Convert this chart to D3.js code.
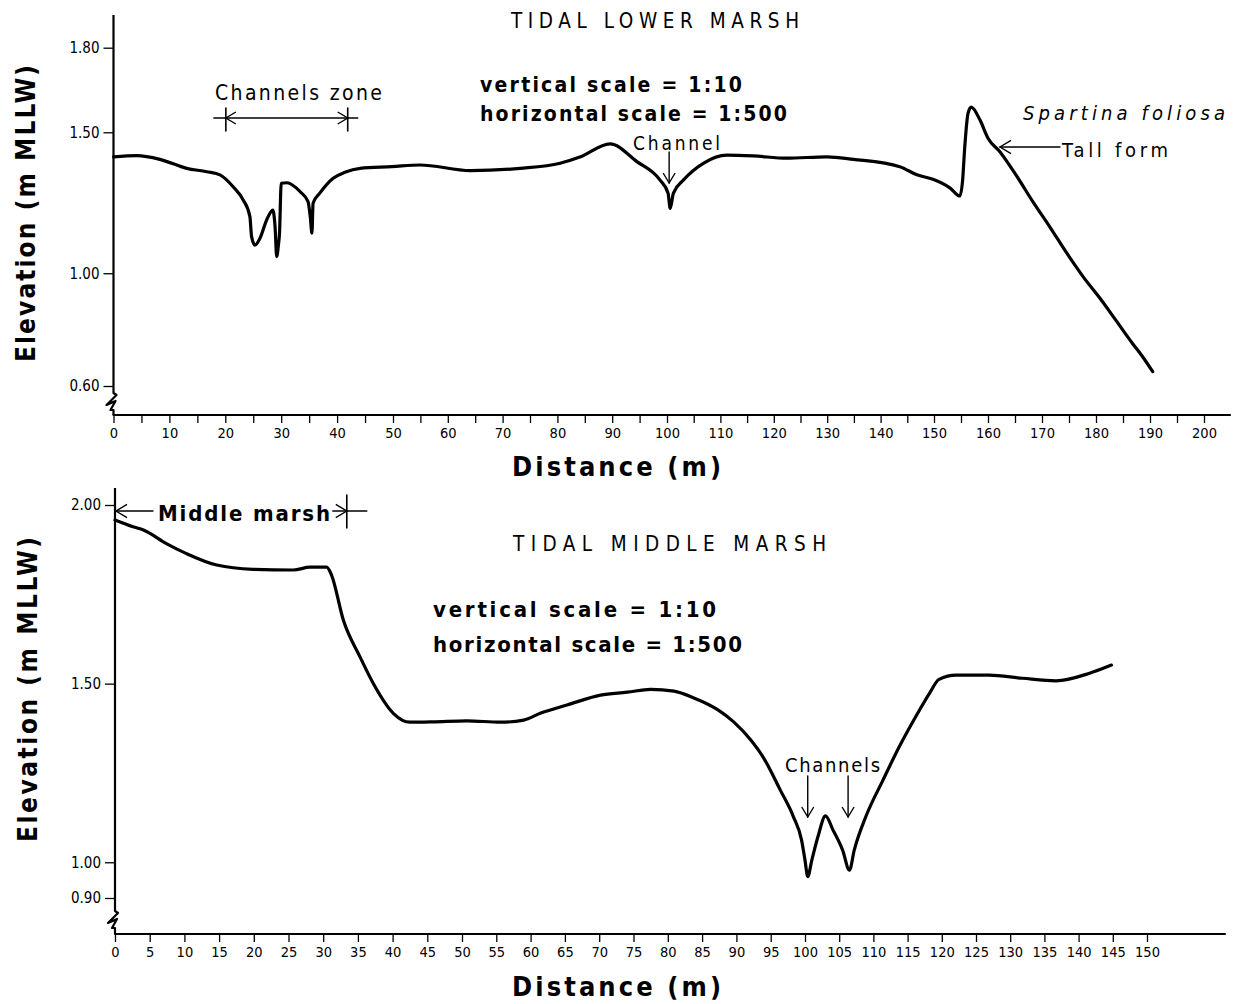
<!DOCTYPE html>
<html>
<head>
<meta charset="utf-8">
<script src="https://cdn.jsdelivr.net/npm/d3@7"></script>
<style>
  html, body { margin: 0; padding: 0; background: #fff; }
  svg { display: block; }
  text { font-family: "DejaVu Sans Condensed", "DejaVu Sans", sans-serif; fill: #000; }
</style>
</head>
<body>
<svg id="chart" width="1234" height="1004"></svg>
<script>
// ---------- DATA ----------
// Tidal lower marsh profile
const lowerDist = [0, 4.15, 8.3, 13.1, 16.7, 19.05, 21.4, 23.2, 24.4, 24.7, 25.3, 26.2, 27.4, 28.5, 28.9, 29.2, 29.5, 29.7, 30.0, 31.0, 33.4, 34.8, 35.2, 35.5, 35.7, 36.9, 39.3, 41.4, 44.1, 49.8, 54.9, 64.1, 73.2, 80.5, 84.1, 89.6, 94.5, 98.7, 100.2, 100.6, 101.2, 103.1, 106.8, 111.2, 116.2, 122.4, 129.9, 134.9, 143.6, 146.8, 149.8, 153.0, 154.8, 155.3, 155.7, 156.3, 156.9, 158.5, 160.0, 162.2, 165.3, 168.3, 171.5, 174.6, 177.6, 180.7, 183.8, 186.8, 188.7, 190.5];
const lowerElev = [1.413, 1.417, 1.404, 1.372, 1.360, 1.349, 1.307, 1.260, 1.201, 1.130, 1.100, 1.124, 1.189, 1.224, 1.165, 1.059, 1.100, 1.142, 1.319, 1.321, 1.289, 1.254, 1.200, 1.142, 1.248, 1.284, 1.337, 1.358, 1.372, 1.378, 1.384, 1.364, 1.372, 1.390, 1.412, 1.459, 1.396, 1.331, 1.284, 1.230, 1.284, 1.331, 1.390, 1.419, 1.416, 1.408, 1.413, 1.404, 1.378, 1.349, 1.333, 1.302, 1.274, 1.330, 1.449, 1.567, 1.589, 1.544, 1.479, 1.431, 1.345, 1.254, 1.163, 1.071, 0.988, 0.912, 0.830, 0.750, 0.702, 0.651];

// Tidal middle marsh profile
const middleDist = [0, 2.6, 4.1, 7.4, 10.3, 14.65, 19.9, 25.7, 28.1, 30.5, 31.2, 32.9, 35.3, 37.2, 40.1, 42.5, 45.8, 50.7, 55.6, 59.0, 61.4, 65.3, 70.2, 74.1, 77.5, 80.9, 83.8, 87.2, 89.6, 92.1, 94.0, 96.4, 98.3, 99.5, 100.0, 100.4, 101.0, 101.9, 103.0, 104.1, 105.5, 106.5, 107.2, 108.9, 111.4, 113.8, 116.2, 118.2, 119.6, 122.1, 126.9, 131.8, 136.7, 141.6, 144.8];
const middleElev = [1.958, 1.939, 1.930, 1.892, 1.864, 1.832, 1.820, 1.818, 1.826, 1.826, 1.804, 1.678, 1.575, 1.501, 1.417, 1.392, 1.393, 1.396, 1.392, 1.398, 1.417, 1.440, 1.468, 1.476, 1.484, 1.479, 1.460, 1.428, 1.393, 1.342, 1.291, 1.202, 1.128, 1.062, 1.006, 0.960, 1.006, 1.072, 1.130, 1.090, 1.034, 0.978, 1.034, 1.128, 1.230, 1.324, 1.408, 1.473, 1.512, 1.524, 1.524, 1.515, 1.508, 1.529, 1.552];

// Tick values / labels
const lowerXTicks = [0,5,10,15,20,25,30,35,40,45,50,55,60,65,70,75,80,85,90,95,100,105,110,115,120,125,130,135,140,145,150,155,160,165,170,175,180,185,190,195,200];
const lowerXLabels = [0,10,20,30,40,50,60,70,80,90,100,110,120,130,140,150,160,170,180,190,200];
const lowerYTicks = [0.60, 1.00, 1.50, 1.80];
const middleXTicks = [0,5,10,15,20,25,30,35,40,45,50,55,60,65,70,75,80,85,90,95,100,105,110,115,120,125,130,135,140,145,150];
const middleYTicks = [0.90, 1.00, 1.50, 2.00];

// Annotation anchors (distances in m)
const lowerZone = [20.1, 41.9];       // "Channels zone" extent
const lowerChannel = 100.4;           // "Channel" arrow
const middleMarshEnd = 33.4;          // end of "Middle marsh"
const middleChannels = [100.4, 106.3];// "Channels" arrows

// ---------- SCALES ----------
const svg = d3.select("#chart");
const xU = d3.scaleLinear().domain([0, 50, 100, 150, 200]).range([113.5, 393, 667, 934, 1204]);
const yU = d3.scaleLinear().domain([0.60, 1.80]).range([386, 47.7]);
const xL = d3.scaleLinear().domain([0, 50, 100, 150]).range([115, 462, 805, 1147]);
const yL = d3.scaleLinear().domain([0.90, 2.00]).range([898, 505]);

const axisYU = 415, axisYL = 934;

function txt(g, s, x, y, size, len, opts = {}) {
  const t = g.append("text").attr("x", x).attr("y", y)
    .attr("font-size", size).text(s);
  if (len) t.attr("textLength", len).attr("lengthAdjust", "spacing");
  if (opts.weight) t.attr("font-weight", opts.weight);
  if (opts.style) t.attr("font-style", opts.style);
  if (opts.transform) t.attr("transform", opts.transform);
  return t;
}
function line(g, x1, y1, x2, y2, w = 1.4) {
  g.append("line").attr("x1", x1).attr("y1", y1).attr("x2", x2).attr("y2", y2)
    .attr("stroke", "#000").attr("stroke-width", w).attr("stroke-linecap", "round");
}
// open arrow head: tip at (x,y), direction 'l','r','d'
function head(g, x, y, dir, s = 10, w = 1.4) {
  let p;
  if (dir === "l") p = [[x + s, y - s * 0.6], [x, y], [x + s, y + s * 0.6]];
  if (dir === "r") p = [[x - s, y - s * 0.6], [x, y], [x - s, y + s * 0.6]];
  if (dir === "d") p = [[x - s * 0.6, y - s], [x, y], [x + s * 0.6, y - s]];
  g.append("path").attr("d", d3.line()(p)).attr("fill", "none")
    .attr("stroke", "#000").attr("stroke-width", w).attr("stroke-linejoin", "miter");
}

function panel(opt) {
  const g = svg.append("g");
  const { x, y, axisY, yTop, breakTop, xEnd } = opt;
  const x0 = x(0);
  // y axis with break symbol
  g.append("path")
    .attr("d", `M${x0},${yTop} L${x0},${breakTop} L${x0+3},${breakTop+2} L${x0-7},${breakTop+12} L${x0+2},${breakTop+8} L${x0-3},${breakTop+17} L${x0},${breakTop+17} L${x0},${axisY}`)
    .attr("fill", "none").attr("stroke", "#000").attr("stroke-width", 2.2).attr("stroke-linejoin", "round");
  // x axis line
  line(g, x0, axisY, xEnd, axisY, 2.2);
  // x ticks
  const ax = d3.axisBottom(x).tickValues(opt.xTicks).tickSize(8).tickPadding(5)
    .tickFormat(d => opt.xLabels.includes(d) ? d : "");
  const gx = g.append("g").attr("transform", `translate(0,${axisY})`).call(ax);
  gx.select(".domain").remove();
  gx.selectAll("line").attr("stroke-width", 1.3);
  gx.selectAll("text").attr("font-size", 14.5).attr("font-family", "DejaVu Sans Condensed, DejaVu Sans, sans-serif");
  // y ticks
  const ay = d3.axisLeft(y).tickValues(opt.yTicks).tickSize(10).tickPadding(4).tickFormat(d3.format(".2f"));
  const gy = g.append("g").attr("transform", `translate(${x0},0)`).call(ay);
  gy.select(".domain").remove();
  gy.selectAll("line").attr("stroke-width", 1.3);
  gy.selectAll("text").attr("font-size", 15).attr("font-family", "DejaVu Sans Condensed, DejaVu Sans, sans-serif");
  // profile
  const pts = opt.dist.map((d, i) => [d, opt.elev[i]]);
  g.append("path")
    .attr("d", d3.line().x(d => x(d[0])).y(d => y(d[1])).curve(d3.curveMonotoneX)(pts))
    .attr("fill", "none").attr("stroke", "#000").attr("stroke-width", 3.2)
    .attr("stroke-linejoin", "round").attr("stroke-linecap", "round");
  return g;
}

// ---------- UPPER PANEL ----------
const gU = panel({ x: xU, y: yU, axisY: axisYU, yTop: 15, breakTop: 393, xEnd: 1230,
  xTicks: lowerXTicks, xLabels: lowerXLabels, yTicks: lowerYTicks, dist: lowerDist, elev: lowerElev });

txt(gU, "TIDAL LOWER MARSH", 511, 28, 20.5, 288);
txt(gU, "Channels zone", 215, 99.5, 21, 167);
txt(gU, "vertical scale = 1:10", 480, 91.5, 21, 262, { weight: "bold" });
txt(gU, "horizontal scale = 1:500", 480, 121, 21, 307, { weight: "bold" });
txt(gU, "Channel", 633, 150, 19, 87);
txt(gU, "Spartina foliosa", 1023, 120, 20, 202, { style: "italic" });
txt(gU, "Tall form", 1062, 157, 20, 106);
txt(gU, "Distance (m)", 512, 476, 27, 209, { weight: "bold" });
txt(gU, "Elevation (m MLLW)", 0, 0, 26, 297, { weight: "bold", transform: "translate(35,362) rotate(-90)" });

// Channels zone span
{
  const a = xU(lowerZone[0]), b = xU(lowerZone[1]), yy = 118;
  line(gU, a - 12, yy, b + 10, yy);
  line(gU, a, yy - 10, a, yy + 13, 1.6);
  line(gU, b, yy - 10, b, yy + 13, 1.6);
  head(gU, a, yy, "l"); head(gU, b, yy, "r");
}
// Channel arrow
{
  const cx = xU(lowerChannel);
  line(gU, cx, 152, cx, 183);
  head(gU, cx, 183, "d");
}
// Tall form arrow
line(gU, 1000, 147, 1060, 147);
head(gU, 1000, 147, "l", 11);

// ---------- LOWER PANEL ----------
const gL = panel({ x: xL, y: yL, axisY: axisYL, yTop: 488, breakTop: 911, xEnd: 1225,
  xTicks: middleXTicks, xLabels: middleXTicks, yTicks: middleYTicks, dist: middleDist, elev: middleElev });

txt(gL, "Middle marsh", 158, 521, 22, 172, { weight: "bold" });
txt(gL, "TIDAL MIDDLE MARSH", 513, 551, 20.5, 313);
txt(gL, "vertical scale = 1:10", 433, 617, 22, 283, { weight: "bold" });
txt(gL, "horizontal scale = 1:500", 433, 652, 22, 309, { weight: "bold" });
txt(gL, "Channels", 785, 772, 20, 95);
txt(gL, "Distance (m)", 512, 996, 27, 209, { weight: "bold" });
txt(gL, "Elevation (m MLLW)", 0, 0, 26, 305, { weight: "bold", transform: "translate(37,842) rotate(-90)" });

// Middle marsh span
{
  const a = xL(0), b = xL(middleMarshEnd), yy = 511;
  line(gL, a, yy, a + 38, yy);
  head(gL, a + 1, yy, "l", 11);
  line(gL, b - 14, yy, b + 20, yy);
  line(gL, b, yy - 16, b, yy + 17, 1.6);
  head(gL, b, yy, "r", 11);
}
// Channels arrows
middleChannels.forEach(d => {
  const cx = xL(d);
  line(gL, cx, 776, cx, 817);
  head(gL, cx, 817, "d");
});
</script>
</body>
</html>
